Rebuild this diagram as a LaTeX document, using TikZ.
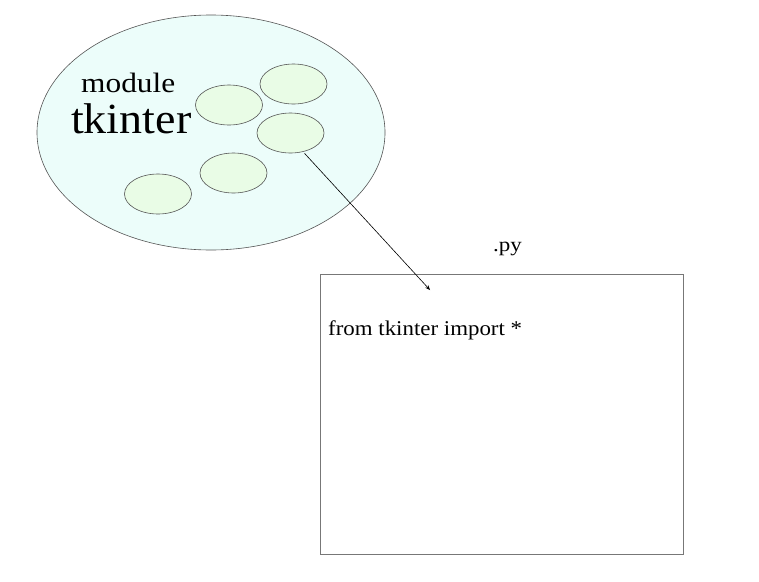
\documentclass[tikz,border=0pt]{standalone}
\usepackage{fontspec}
\setmainfont{Liberation Serif}
\usetikzlibrary{shapes.geometric,arrows.meta}
\definecolor{bigfill}{HTML}{ECFDFA}
\definecolor{smallfill}{HTML}{E9FCE6}
\definecolor{edge}{HTML}{555555}
\tikzset{
  item/.style={ellipse,draw=edge,fill=smallfill,line width=0.6pt,minimum width=67pt,minimum height=40pt,inner sep=0pt},
  lbl/.style={inner sep=0pt,anchor=base west}
}
\begin{document}
\begin{tikzpicture}[x=1pt,y=-1pt]
\useasboundingbox (0,0) rectangle (759,581);
\node[ellipse,draw=edge,fill=bigfill,line width=0.6pt,minimum width=348pt,minimum height=235pt,inner sep=0pt] (mod) at (211,132.5) {};
\node[item] (e1) at (293.5,84) {};
\node[item] (e2) at (229,105) {};
\node[item] (e3) at (290.5,133) {};
\node[item] (e4) at (233.5,173) {};
\node[item] (e5) at (158,194) {};
\node[lbl,font=\fontsize{28}{30}\selectfont] (t1) at (81,92) {\scalebox{1.12}[1]{module}};
\node[lbl,font=\fontsize{43}{45}\selectfont] (t2) at (71,133) {\scalebox{1.07}[1]{tkinter}};
\node[draw=edge!80,line width=0.8pt,minimum width=363pt,minimum height=280pt,inner sep=0pt,anchor=north west] (box) at (320,274) {};
\node[lbl,font=\fontsize{20}{22}\selectfont] (py) at (493,251) {\scalebox{1.15}[1]{.py}};
\node[lbl,font=\fontsize{21}{23}\selectfont] (code) at (328,335) {\scalebox{1.09}[1]{from tkinter import *}};
\coordinate (tip) at (430,290);
\draw[line width=0.6pt,-{Stealth[length=5pt,width=4pt]}] (e3.south)++(14,0) coordinate (st) (st) -- (tip);
\end{tikzpicture}
\end{document}
